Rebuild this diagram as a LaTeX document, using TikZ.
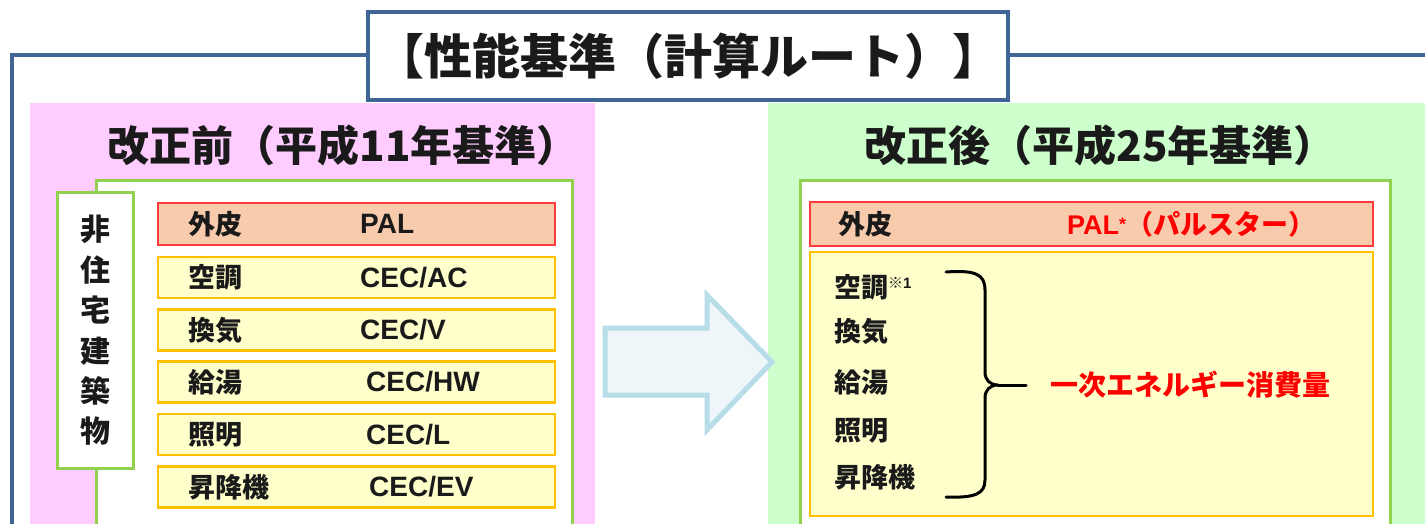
\documentclass[tikz,border=0pt]{standalone}
\usepackage{fontspec}
\setmainfont{Noto Sans CJK JP}
\newfontfamily\lat{Liberation Sans}
\definecolor{frameblue}{HTML}{3F6594}
\definecolor{pinkbg}{HTML}{FFCCFF}
\definecolor{greenbg}{HTML}{CCFFCC}
\definecolor{greenline}{HTML}{92D050}
\definecolor{salmon}{HTML}{F8CBAD}
\definecolor{redline}{HTML}{FF3B3B}
\definecolor{yellowbg}{HTML}{FFFFCC}
\definecolor{orangeline}{HTML}{FFC000}
\definecolor{arrowfill}{HTML}{EEF6FA}
\definecolor{arrowline}{HTML}{B7DDE8}
\definecolor{ink}{HTML}{1A1A1A}
\begin{document}
\begin{tikzpicture}[x=1pt,y=-1pt,
  frameline/.style={draw=frameblue,line width=4pt},
  titlebox/.style={draw=frameblue,line width=4pt,fill=white,minimum width=640pt,minimum height=88pt,inner sep=0pt,
     font=\bfseries\fontsize{48}{54}\selectfont,text=ink},
  panel/.style={draw=none,inner sep=0pt},
  whitebox/.style={draw=greenline,line width=3pt,fill=white,inner sep=0pt},
  skinrow/.style={draw=redline,line width=2.5pt,fill=salmon,inner sep=0pt},
  itemrow/.style={draw=orangeline,line width=2.5pt,fill=yellowbg,inner sep=0pt,minimum width=397pt,minimum height=41pt},
  paneltitle/.style={font=\bfseries\fontsize{42}{48}\selectfont,text=ink,inner sep=0pt},
  jlabel/.style={font=\bfseries\fontsize{27}{31}\selectfont,text=ink,inner sep=0pt,anchor=west},
  llabel/.style={font=\lat\bfseries\fontsize{28}{32}\selectfont,text=ink,inner sep=0pt,anchor=west},
  redlabel/.style={font=\bfseries\fontsize{28}{32}\selectfont,text=red,inner sep=0pt,anchor=west},
  bigarrow/.style={fill=arrowfill,draw=arrowline,line width=5pt,line join=miter},
  bracestyle/.style={draw=black,line width=3pt,line cap=round,line join=round}
]
\useasboundingbox (0,0) rectangle (1425,524);
\fill[white] (0,0) rectangle (1425,524);

% outer frame
\coordinate (fl) at (12,540);
\coordinate (fc) at (12,55);
\coordinate (fr) at (1430,55);
\draw[frameline] (fl) -- (fc) -- (fr);

% title
\node[titlebox] (title) at (688,56) {【性能基準（計算ルート）】};

% panels
\node[panel,fill=pinkbg,minimum width=565pt,minimum height=430pt] (pL) at (312.5,318) {};
\node[panel,fill=greenbg,minimum width=662pt,minimum height=430pt] (pR) at (1099,318) {};

\node[paneltitle] (tL) at (343,145) {改正前（平成11年基準）};
\node[paneltitle] (tR) at (1100,145) {改正後（平成25年基準）};

% left white box and tab
\node[whitebox,minimum width=476pt,minimum height=360pt] (wL) at (334,361) {};
\node[whitebox,minimum width=76pt,minimum height=275pt,font=\bfseries\fontsize{30}{40.4}\selectfont,text=ink,align=center] (tab) at (95,330.5) {非\\住\\宅\\建\\築\\物};

% left rows
\node[skinrow,minimum width=397pt,minimum height=42pt] (r1) at (356.5,224) {};
\node[itemrow] (r2) at (356.5,277.5) {};
\node[itemrow] (r3) at (356.5,330) {};
\node[itemrow] (r4) at (356.5,382) {};
\node[itemrow] (r5) at (356.5,434.5) {};
\node[itemrow] (r6) at (356.5,487) {};

\node[jlabel] (j1) at (188,224) {外皮};
\node[jlabel] (j2) at (188,277.5) {空調};
\node[jlabel] (j3) at (188,330) {換気};
\node[jlabel] (j4) at (188,382) {給湯};
\node[jlabel] (j5) at (188,434.5) {照明};
\node[jlabel] (j6) at (188,487) {昇降機};

\node[llabel] (l1) at (360,224) {PAL};
\node[llabel] (l2) at (360,277.5) {CEC/AC};
\node[llabel] (l3) at (360,330) {CEC/V};
\node[llabel] (l4) at (366,382) {CEC/HW};
\node[llabel] (l5) at (366,434.5) {CEC/L};
\node[llabel] (l6) at (369,487) {CEC/EV};

% big arrow
\draw[bigarrow] (605,328) -- (707,328) -- (707,295) -- (772,362) -- (707,430) -- (707,395) -- (605,395) -- cycle;

% right white box
\node[whitebox,minimum width=590pt,minimum height=360pt] (wR) at (1095,361) {};
\node[skinrow,minimum width=563pt,minimum height=44pt] (s1) at (1091.5,224) {};
\node[itemrow,minimum width=563pt,minimum height=264pt] (ybox) at (1091.5,384) {};

\node[jlabel] (rs) at (838,224) {外皮};
\node[redlabel,font=\bfseries\fontsize{27}{31}\selectfont] (pal) at (1067,224) {{\lat\fontsize{27}{31}\selectfont PAL\raisebox{4pt}{\fontsize{18}{18}\selectfont *}}（パルスター）};

\node[jlabel] (i1) at (834,287) {空調\raisebox{9pt}{\fontsize{15}{15}\selectfont ※\lat 1}};
\node[jlabel] (i2) at (834,331) {換気};
\node[jlabel] (i3) at (834,382) {給湯};
\node[jlabel] (i4) at (834,431) {照明};
\node[jlabel] (i5) at (834,477) {昇降機};

% brace
\coordinate (bt) at (998,385);
\draw[bracestyle] (946,272) .. controls (975,270) and (985,274) .. (985,290) -- (985,372)
   .. controls (985,380) and (990,385) .. (bt)
   .. controls (990,385) and (985,390) .. (985,398) -- (985,480)
   .. controls (985,494) and (975,498) .. (946,497);
\node[redlabel] (ene) at (1050,385) {一次エネルギー消費量};
\coordinate (be) at (1026,385);
\draw[bracestyle] (bt) -- (be);
\end{tikzpicture}
\end{document}
